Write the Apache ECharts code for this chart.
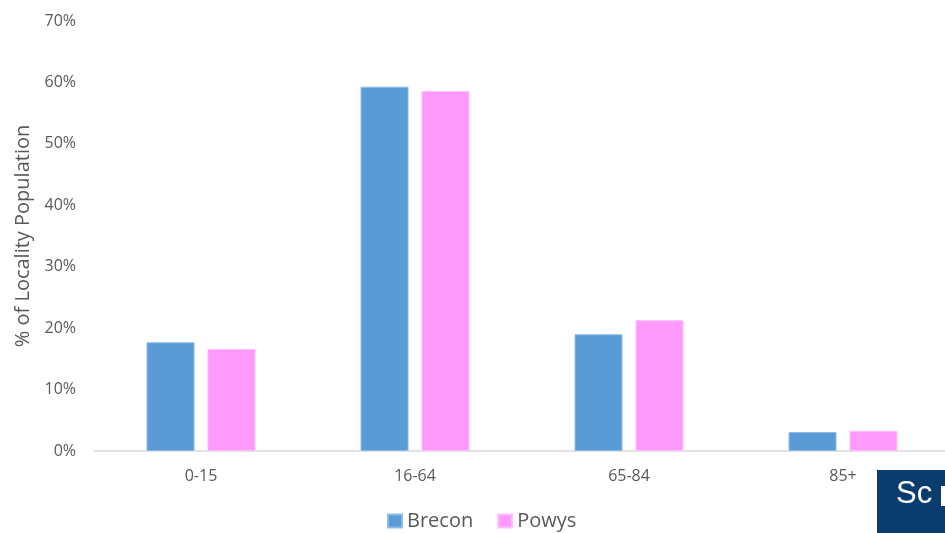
<!DOCTYPE html>
<html>
<head>
<meta charset="utf-8">
<script src="https://cdn.jsdelivr.net/npm/echarts@6/dist/echarts.min.js"></script>
<style>html,body{margin:0;padding:0;background:#fff;overflow:hidden;width:945px;height:533px}#c{width:950px;height:533px}</style>
</head>
<body>
<div id="c"></div>
<script>
var categories = ['0-15', '16-64', '65-84', '85+'];
var brecon = [17.7, 59.3, 19.0, 3.1];
var powys = [16.6, 58.6, 21.3, 3.3];
var yTicks = [0, 10, 20, 30, 40, 50, 60, 70];

var chart = echarts.init(document.getElementById('c'));
var font = '"Open Sans", sans-serif';
chart.setOption({
  animation: false,
  textStyle: { fontFamily: font },
  grid: { left: 94, right: 0, top: 21, bottom: 82, containLabel: false },
  legend: {
    top: 511, left: 387, padding: 0,
    itemWidth: 14, itemHeight: 13, itemGap: 24,
    icon: 'rect',
    textStyle: { color: '#595959', fontSize: 20, fontFamily: font },
    data: ['Brecon', 'Powys']
  },
  xAxis: {
    type: 'category', data: categories,
    axisLine: { lineStyle: { color: '#d9d9d9', width: 1.5 } },
    axisTick: { show: false },
    axisLabel: { color: '#595959', fontSize: 16, margin: 17, fontFamily: font }
  },
  yAxis: {
    type: 'value', min: yTicks[0], max: yTicks[yTicks.length - 1], interval: 10,
    name: '% of Locality Population', nameLocation: 'middle', nameGap: 61,
    nameTextStyle: { color: '#595959', fontSize: 20, fontFamily: font },
    splitLine: { show: false },
    axisLine: { show: false }, axisTick: { show: false },
    axisLabel: { color: '#595959', fontSize: 16, margin: 18, fontFamily: font, formatter: '{value}%' }
  },
  series: [
    { name: 'Brecon', type: 'bar', data: brecon, barWidth: 48, barGap: '27%',
      itemStyle: { color: '#5B9BD5', borderColor: '#8dbbe6', borderWidth: 1 } },
    { name: 'Powys', type: 'bar', data: powys, barWidth: 48,
      itemStyle: { color: '#FF99FB', borderColor: '#ffc0fd', borderWidth: 1 } }
  ],
  graphic: [
    { type: 'rect', left: 877, top: 470, shape: { width: 75, height: 63 }, style: { fill: '#0b3c6e' }, z: 100 },
    { type: 'text', left: 896, top: 479, style: { text: 'Sc', fill: '#ffffff', font: '31px "Liberation Sans", Arial, sans-serif' }, z: 101 },
    { type: 'rect', left: 941, top: 486, shape: { width: 6, height: 20 }, style: { fill: '#ffffff' }, z: 101 }
  ]
});
</script>
</body>
</html>
